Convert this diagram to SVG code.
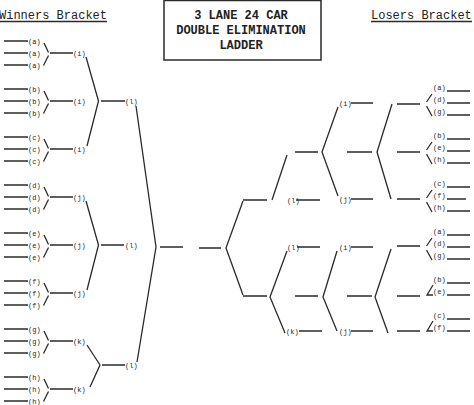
<svg xmlns="http://www.w3.org/2000/svg" width="474" height="405" viewBox="0 0 474 405">
<style>
.ln{stroke:#2a2a2a;stroke-width:1.3;fill:none;stroke-linecap:butt}
.lb{font-family:"Liberation Mono","Courier New",monospace;font-size:7px;fill:#222}
.hd{font-family:"Liberation Mono","Courier New",monospace;font-size:12px;fill:#222}
.tt{font-family:"Liberation Mono","Courier New",monospace;font-size:12px;fill:#222;font-weight:bold;text-anchor:middle}
</style>
<rect width="474" height="405" fill="#fff"/>
<g id="title">
<rect x="164" y="0.5" width="157" height="59.5" fill="#fff" stroke="#2a2a2a" stroke-width="1.5"/>
<text class="tt" x="241" y="19">3 LANE 24 CAR</text>
<text class="tt" x="241" y="34">DOUBLE ELIMINATION</text>
<text class="tt" x="241" y="49">LADDER</text>
</g>
<g id="winners-heading">
<text class="hd" x="-1" y="19">Winners Bracket</text>
<line class="ln" x1="0" y1="21.5" x2="107" y2="21.5"/>
</g>
<g id="losers-heading">
<text class="hd" x="371" y="19">Losers Bracket</text>
<line class="ln" x1="371" y1="21.5" x2="472" y2="21.5"/>
</g>
<g id="winners-entries" class="lb">
<text x="28" y="43.5">(a)</text><text x="28" y="55.5">(a)</text><text x="28" y="67.5">(a)</text>
<text x="28" y="91.5">(b)</text><text x="28" y="103.5">(b)</text><text x="28" y="115.5">(b)</text>
<text x="28" y="139.5">(c)</text><text x="28" y="151.5">(c)</text><text x="28" y="163.5">(c)</text>
<text x="28" y="187.5">(d)</text><text x="28" y="199.5">(d)</text><text x="28" y="211.5">(d)</text>
<text x="28" y="235.5">(e)</text><text x="28" y="247.5">(e)</text><text x="28" y="259.5">(e)</text>
<text x="28" y="283.5">(f)</text><text x="28" y="295.5">(f)</text><text x="28" y="307.5">(f)</text>
<text x="28" y="331.5">(g)</text><text x="28" y="343.5">(g)</text><text x="28" y="355.5">(g)</text>
<text x="28" y="379.5">(h)</text><text x="28" y="391.5">(h)</text><text x="28" y="403.5">(h)</text>
</g>
<g id="winners-round1" class="lb">
<text x="73" y="55.5">(i)</text><text x="73" y="103.5">(i)</text><text x="73" y="151.5">(i)</text>
<text x="73" y="199.5">(j)</text><text x="73" y="247.5">(j)</text><text x="73" y="295.5">(j)</text>
<text x="73" y="343.5">(k)</text><text x="73" y="391.5">(k)</text>
</g>
<g id="winners-round2" class="lb">
<text x="125" y="103.5">(l)</text><text x="125" y="247.5">(l)</text><text x="125" y="367.5">(l)</text>
</g>
<g id="losers-round1" class="lb">
<text x="287" y="202.5">(l)</text>
<text x="287" y="249.5">(l)</text>
<text x="286" y="333.5">(k)</text>
</g>
<g id="losers-round2" class="lb">
<text x="339" y="105.5">(i)</text>
<text x="339" y="201.5">(j)</text>
<text x="339" y="249.5">(i)</text>
<text x="339" y="333.5">(j)</text>
</g>
<g id="losers-entries" class="lb">
<text x="433" y="90">(a)</text><text x="433" y="102">(d)</text><text x="433" y="114">(g)</text>
<text x="433" y="138">(b)</text><text x="433" y="150">(e)</text><text x="433" y="162">(h)</text>
<text x="433" y="186">(c)</text><text x="433" y="198">(f)</text><text x="433" y="210">(h)</text>
<text x="433" y="234">(a)</text><text x="433" y="246">(d)</text><text x="433" y="258">(g)</text>
<text x="433" y="282">(b)</text><text x="433" y="294">(e)</text>
<text x="433" y="318">(c)</text><text x="433" y="330">(f)</text>
</g>
<g id="connectors" class="ln">
<path d="M4 41H28M4 53H28M4 65H28M4 89H28M4 101H28M4 113H28M4 137H28M4 149H28M4 161H28M4 185H28M4 197H28M4 209H28M4 233H28M4 245H28M4 257H28M4 281H28M4 293H28M4 305H28M4 329H28M4 341H28M4 353H28M4 377H28M4 389H28M4 401H28"/>
<path d="M44 43L48.5 52.5M48.5 55.5L43.5 65.5M50 53H73
M44 91L48.5 100.5M48.5 103.5L43.5 113.5M50 101H73
M44 139L48.5 148.5M48.5 151.5L43.5 161.5M50 149H73
M44 187L48.5 196.5M48.5 199.5L43.5 209.5M50 197H73
M44 235L48.5 244.5M48.5 247.5L43.5 257.5M50 245H73
M44 283L48.5 292.5M48.5 295.5L43.5 305.5M50 293H73
M44 331L48.5 340.5M48.5 343.5L43.5 353.5M50 341H73
M44 379L48.5 388.5M48.5 391.5L43.5 401.5M50 389H73"/>
<path d="M86 57L98.5 101L87 146M101 101H125
M86 201L98.5 245L87 290M101 245H124
M87 345L100 365L90 387M102 365H125"/>
<path d="M136 106L156 247L137 362M160 247H183"/>
<path d="M199 248H221M243 201L226 248L243 295M243 200H267M243 296H267"/>
<path d="M272 200L287 155M296 200H320M295 152H318
M287 251L270 297L285 333M297 247H320M299 331H322M295 296H318"/>
<path d="M338 107L322 152L338 196M351 103H373M351 199H373M347 152H372
M337 251L323 297L337 331M351 247H373M351 331H373M347 296H372"/>
<path d="M392 104L377 152L391 199M397 104H420M397 152H420M397 199H420
M391 249L375 297L388 333M397 246H420M397 296H420M397 331H420"/>
<path d="M432 94L426.5 102M426.5 106L432 116M447 91H470M447 103H470M447 115H470
M432 142L426.5 150M426.5 154L432 164M447 139H470M447 151H470M447 163H470
M432 190L426.5 198M426.5 202L432 212M447 187H470M447 199H466M447 211H470
M432 238L426.5 246M426.5 250L432 260M447 235H470M447 247H470M447 259H470
M433 285L427 295H433M447 283H470M447 295H470
M433 321L427 331H433M447 319H470M447 331H470"/>
</g>
</svg>
